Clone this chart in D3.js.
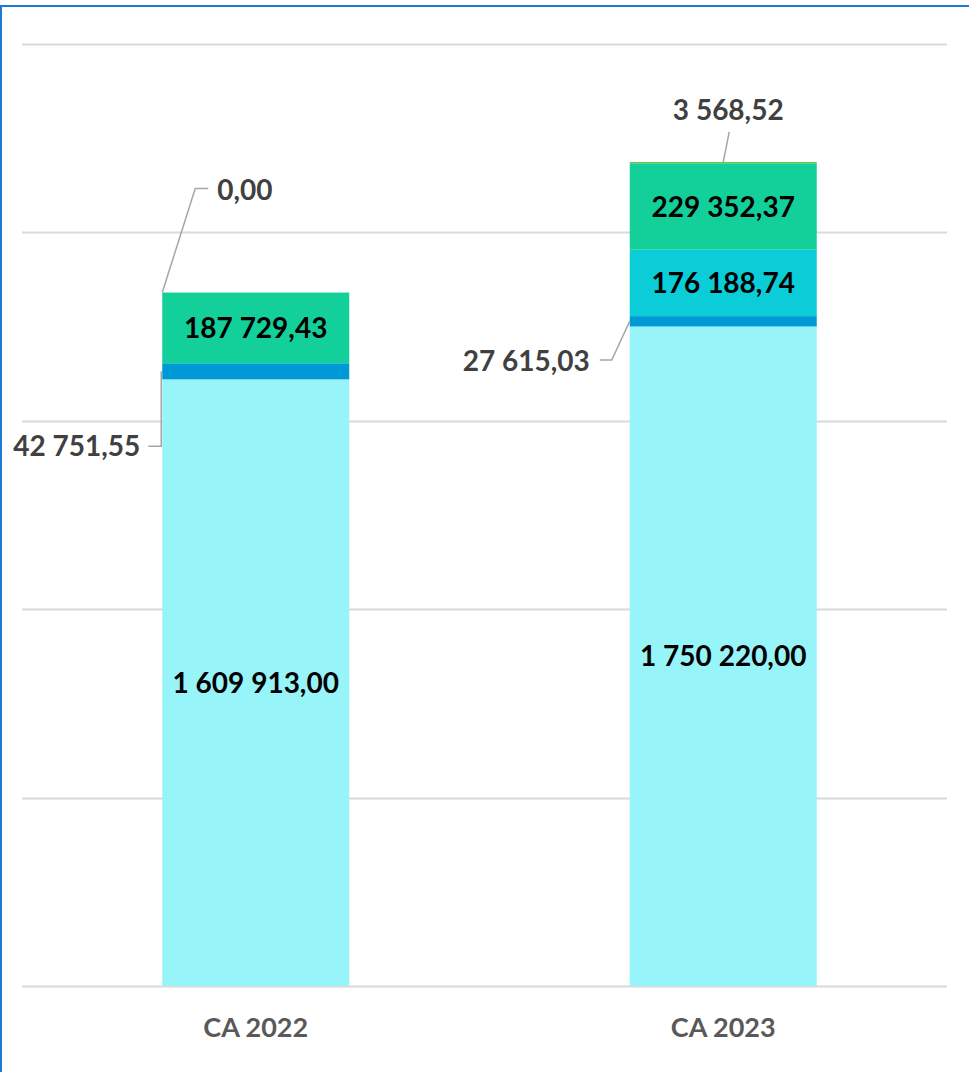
<!DOCTYPE html>
<html>
<head>
<meta charset="utf-8">
<script src="https://cdn.jsdelivr.net/npm/d3@7"></script>
<style>
  body { margin: 0; background: #fff; }
  svg { display: block; font-family: Lato, "Open Sans", sans-serif; }
</style>
</head>
<body>
<div id="chart-area"></div>
<script>
// donnees
var categories = ["CA 2022", "CA 2023"];
var seriesKeys = ["s1", "s2", "s3", "s4", "s5"];
var s1 = [1609913.00, 1750220.00];
var s2 = [42751.55, 27615.03];
var s3 = [null, 176188.74];
var s4 = [187729.43, 229352.37];
var s5 = [0.00, 3568.52];
var colors = ["#97F4F9", "#0099D8", "#0ACDD8", "#13D09A", "#6CC24A"];
var yTicks = [0, 500000, 1000000, 1500000, 2000000, 2500000];

var rows = categories.map(function(c, i){
	return { cat: c, s1: s1[i], s2: s2[i], s3: s3[i], s4: s4[i], s5: s5[i] };
});

var W = 969, H = 1072;
var svg = d3.select("#chart-area")
			.append("svg")
			.attr("width", W)
			.attr("height", H);

// cadre bleu
svg.append("rect")
	.attr("x", 1).attr("y", 6)
	.attr("width", W + 10).attr("height", H + 10)
	.attr("fill", "none")
	.attr("stroke", "#1F78D1")
	.attr("stroke-width", 2);

var x = d3.scaleBand()
		.domain(categories)
		.range([22, 957])
		.paddingInner(0.6)
		.paddingOuter(0.3);

var y = d3.scaleLinear()
		.domain([0, 2500000])
		.range([986, 44]);

// grille
svg.selectAll("line.grid")
	.data(yTicks)
	.enter()
	.append("line")
	.attr("class", "grid")
	.attr("x1", 22).attr("x2", 947)
	.attr("y1", function(d){ return Math.round(y(d)) + 0.5; })
	.attr("y2", function(d){ return Math.round(y(d)) + 0.5; })
	.attr("stroke", "#D9D9D9")
	.attr("stroke-width", 2);

var stack = d3.stack()
		.keys(seriesKeys)
		.value(function(d, k){ return d[k] || 0; });
var stacked = stack(rows);

var layers = svg.selectAll("g.layer")
		.data(stacked)
		.enter()
		.append("g")
		.attr("fill", function(d, i){ return colors[i]; });

layers.selectAll("rect")
	.data(function(d){ return d; })
	.enter()
	.append("rect")
	.attr("x", function(d){ return x(d.data.cat); })
	.attr("width", x.bandwidth())
	.attr("y", function(d){ return y(d[1]); })
	.attr("height", function(d){ return y(d[0]) - y(d[1]); });

// axe x
svg.selectAll("text.cat")
	.data(categories)
	.enter()
	.append("text")
	.attr("x", function(d){ return x(d) + x.bandwidth() / 2; })
	.attr("y", 1037)
	.attr("text-anchor", "middle")
	.attr("font-size", 27)
	.attr("font-weight", "bold")
	.attr("fill", "#595959")
	.text(function(d){ return d; });

var fmt = function(v){
	var s = v.toFixed(2).split(".");
	return s[0].replace(/\B(?=(\d{3})+(?!\d))/g, " ") + "," + s[1];
};

// etiquettes dans les barres
var inside = [];
stacked.forEach(function(layer){
	layer.forEach(function(d, i){
		var v = d.data[layer.key];
		if (v !== null && (d[1] - d[0]) > 100000) {
			inside.push({ v: v, cat: d.data.cat, mid: (d[0] + d[1]) / 2 });
		}
	});
});
svg.selectAll("text.inside")
	.data(inside)
	.enter()
	.append("text")
	.attr("x", function(d){ return x(d.cat) + x.bandwidth() / 2; })
	.attr("y", function(d){ return y(d.mid); })
	.attr("dy", "0.36em")
	.attr("text-anchor", "middle")
	.attr("font-size", 28)
	.attr("font-weight", "bold")
	.attr("fill", "#000")
	.text(function(d){ return fmt(d.v); });

// etiquettes avec lignes de rappel
var callouts = [
	{ key: "s5", i: 0, side: "left", pts: [[0, 0], [33, -104], [46, -104]], tx: 55, ty: -103, anchor: "start" },
	{ key: "s2", i: 0, side: "left", pts: [[-1, 8], [-1, 83], [-14, 83]], tx: -22, ty: 83, anchor: "end" },
	{ key: "s5", i: 1, side: "mid", pts: [[0, 0], [6, -30]], tx: 5, ty: -52, anchor: "middle" },
	{ key: "s2", i: 1, side: "left", pts: [[0, 5], [-18, 44], [-30, 44]], tx: -40, ty: 45, anchor: "end" }
];
callouts.forEach(function(c){
	var layer = stacked[seriesKeys.indexOf(c.key)];
	var d = layer[c.i];
	var bx = c.side === "left" ? x(d.data.cat) : x(d.data.cat) + x.bandwidth() / 2;
	var by = y(d[1]);
	svg.append("path")
		.attr("d", d3.line()(c.pts.map(function(p){ return [bx + p[0], by + p[1]]; })))
		.attr("fill", "none")
		.attr("stroke", "#A6A6A6")
		.attr("stroke-width", 1.5);
	svg.append("text")
		.attr("x", bx + c.tx)
		.attr("y", by + c.ty)
		.attr("dy", "0.36em")
		.attr("text-anchor", c.anchor)
		.attr("font-size", 28)
		.attr("font-weight", "bold")
		.attr("fill", "#404040")
		.text(fmt(d.data[c.key]));
});
</script>
</body>
</html>
